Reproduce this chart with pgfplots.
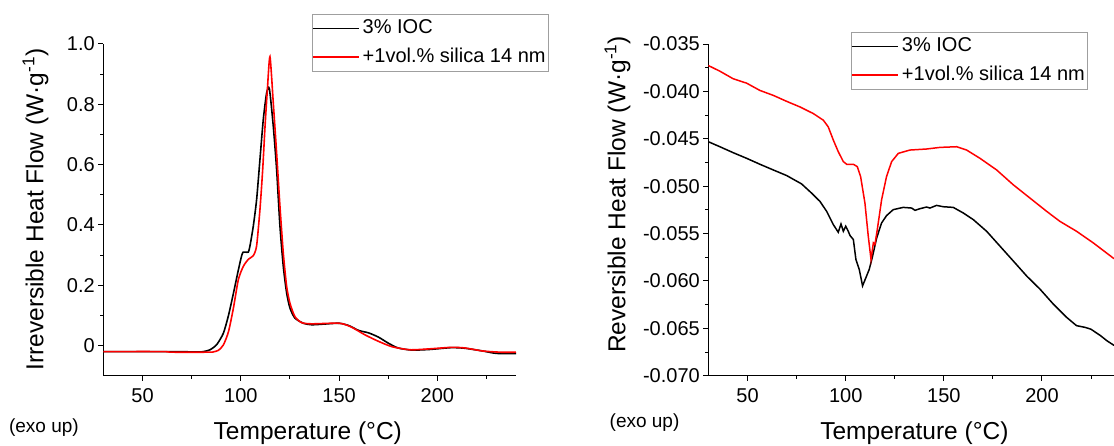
\documentclass[border=0pt]{standalone}
\usepackage{fontspec}
\setmainfont{Liberation Sans}
\usepackage{pgfplots}
\pgfplotsset{compat=1.18}
\begin{document}
\begin{tikzpicture}
\path[use as bounding box] (0,0) rectangle (1114pt,445pt);
\pgfplotsset{
 mystyle/.style={
  scale only axis, height=331.7pt,
  axis lines=left, axis line style={-, line width=1pt, black},
  tick align=outside, major tick length=5pt, minor tick length=3pt,
  every tick/.style={black, line width=1pt},
  tick label style={font=\fontsize{20}{22}\selectfont},
  xticklabel style={yshift=-4pt},
  scaled y ticks=false, scaled x ticks=false,
  /pgf/number format/assume math mode=true,
  xmin=30, xtick={50,100,150,200}, xticklabels={50,100,150,200},
  minor xtick={75,125,175,225},
  label style={font=\fontsize{24.5}{28}\selectfont},
  legend cell align=left,
  legend style={draw=gray!75, line width=0.8pt, font=\fontsize{20}{24}\selectfont,
    inner xsep=0pt, inner ysep=0pt, row sep=0pt,
    nodes={inner ysep=5pt, inner xsep=3pt, text height=14.5pt, text depth=4pt}},
  legend image code/.code={\draw[#1, line width=1.6pt] (0pt,0pt) -- (46pt,0pt);},
 }
}
% ---------------- left axis ----------------
\begin{axis}[mystyle, at={(103.3pt,69.3pt)}, width=412.7pt,
  xmax=240, ymin=-0.1, ymax=1.0,
  ytick={0,0.2,0.4,0.6,0.8,1.0}, yticklabels={0,0.2,0.4,0.6,0.8,1.0},
  minor ytick={0.1,0.3,0.5,0.7,0.9},
  xlabel={Temperature (°C)},
  xlabel style={at={(axis description cs:0.4955,-0.1938)}, anchor=base},
  ylabel={Irreversible Heat Flow (W·g\textsuperscript{-1})},
  ylabel style={at={(axis description cs:-0.1451,0.501)}, anchor=base},
  legend style={at={(0.505,1.0905)}, anchor=north west},
]
\addplot[black, line width=1.6pt, smooth, tension=0.4] coordinates {
(30,-0.02) (60,-0.02) (78,-0.021) (81,-0.02) (84.3,-0.014) (87.7,0.003) (91.1,0.041)
(93.7,0.100) (96.2,0.173) (98.7,0.25) (100.4,0.298) (101.2,0.31) (102.5,0.31) (103.8,0.31)
(104.6,0.329) (106.3,0.395) (108,0.483) (109.7,0.616) (111.4,0.749) (113.1,0.837) (114.5,0.852)
(116.5,0.727) (118.2,0.583) (119.9,0.395) (121.6,0.262) (123.3,0.174) (125,0.124) (127.5,0.091)
(131.8,0.074) (136,0.069) (142,0.071) (150,0.074) (155,0.066) (160,0.05) (165,0.042) (170,0.028)
(175,0.008) (180,-0.008) (187,-0.015) (196,-0.013) (207,-0.007) (214,-0.009) (223,-0.018)
(230,-0.026) (240,-0.027)};
\addlegendentry{3\% IOC}
\addplot[red, line width=1.6pt, smooth, tension=0.4] coordinates {
(30,-0.02) (60,-0.02) (65,-0.022) (84,-0.022) (86,-0.021) (88.5,-0.016) (91.1,0.002) (93.7,0.046)
(96.2,0.124) (98.7,0.218) (101.2,0.262) (103.8,0.286) (106.3,0.298) (108,0.33) (109.7,0.45)
(111.1,0.583) (112.3,0.727) (113.5,0.85) (114.8,0.958) (116.5,0.804) (118.2,0.638) (119.9,0.461)
(121.6,0.306) (123.3,0.196) (125,0.14) (127.5,0.096) (130.9,0.076) (136,0.072) (150,0.074)
(156,0.062) (163,0.036) (170,0.014) (177,-0.004) (186,-0.014) (196,-0.011) (207,-0.006)
(214,-0.008) (223,-0.018) (232,-0.022) (240,-0.022)};
\addlegendentry{+1vol.\% silica 14 nm}
\end{axis}
% ---------------- right axis ----------------
\begin{axis}[mystyle, at={(708.3pt,69.3pt)}, width=405.7pt,
  xmax=236.7, ymin=-0.070, ymax=-0.035,
  ytick={-0.070,-0.065,-0.060,-0.055,-0.050,-0.045,-0.040,-0.035},
  yticklabels={-0.070,-0.065,-0.060,-0.055,-0.050,-0.045,-0.040,-0.035},
  minor ytick={-0.0675,-0.0625,-0.0575,-0.0525,-0.0475,-0.0425,-0.0375},
  xlabel={Temperature (°C)},
  xlabel style={at={(axis description cs:0.508,-0.1938)}, anchor=base},
  ylabel={Reversible Heat Flow (W·g\textsuperscript{-1})},
  ylabel style={at={(axis description cs:-0.2043,0.5466)}, anchor=base},
  legend style={at={(0.3517,1.0368)}, anchor=north west},
]
\addplot[black, line width=1.5pt] coordinates {
(30,-0.04531) (35.9,-0.04584) (42.7,-0.04647) (49.5,-0.04706) (56.3,-0.04769) (63.1,-0.04829)
(69.9,-0.04888) (77.5,-0.04976) (82.6,-0.05073) (86.9,-0.05161) (90.3,-0.05266) (93.7,-0.05406)
(96.2,-0.05486) (97.6,-0.05399) (98.8,-0.05476) (100,-0.05423) (101.3,-0.05476) (102.2,-0.05521)
(103.9,-0.05563) (105.2,-0.05773) (106.9,-0.05878) (108.6,-0.06052) (110.3,-0.05965) (112,-0.05878)
(113.7,-0.05738) (115.8,-0.05545) (118.3,-0.05388) (120.8,-0.05311) (124.2,-0.05248) (129.3,-0.05224)
(133.6,-0.05231) (135.3,-0.05255) (137.8,-0.05238) (141.2,-0.05220) (142.9,-0.05231) (146.3,-0.05203)
(149.7,-0.05217) (154.8,-0.05224) (159.9,-0.05283) (165,-0.05353) (171.8,-0.05476) (178.6,-0.05633)
(185.4,-0.0579) (192.2,-0.05948) (199,-0.06087) (205.8,-0.06245) (212.6,-0.06385) (217.6,-0.06472)
(222,-0.0649) (225,-0.0651) (230,-0.0658) (233,-0.0663) (236.7,-0.0668)};
\addlegendentry{3\% IOC}
\addplot[red, line width=1.5pt] coordinates {
(30,-0.03727) (35.9,-0.03787) (42.7,-0.03867) (49.5,-0.03913) (56.3,-0.0399) (63.1,-0.04042)
(69.9,-0.04105) (76.7,-0.04164) (83.5,-0.04234) (88.6,-0.04304) (91.1,-0.04374) (93.7,-0.04514)
(96.2,-0.04636) (98.8,-0.04741) (100.5,-0.04769) (103.9,-0.04769) (105.9,-0.04794) (107.6,-0.04899)
(109.8,-0.05178) (111.5,-0.05528) (112.9,-0.05773) (114.1,-0.05598) (114.9,-0.05615) (116.1,-0.05458)
(118.3,-0.05143) (120.8,-0.04899) (123.4,-0.04741) (126.8,-0.04654) (132.7,-0.04619) (141.2,-0.04608)
(148,-0.04591) (156.5,-0.04584) (161.6,-0.04619) (168.4,-0.04706) (176.9,-0.04829) (185.4,-0.04986)
(193.9,-0.05126) (202.4,-0.05266) (209.1,-0.05371) (217.6,-0.05476) (226.1,-0.05598) (236.7,-0.05765)};
\addlegendentry{+1vol.\% silica 14 nm}
\end{axis}
\node[anchor=base west, inner sep=0pt, font=\fontsize{19}{22}\selectfont] at (8.9pt,13pt) {(exo up)};
\node[anchor=base west, inner sep=0pt, font=\fontsize{19}{22}\selectfont] at (609.5pt,17.5pt) {(exo up)};
\end{tikzpicture}
\end{document}
